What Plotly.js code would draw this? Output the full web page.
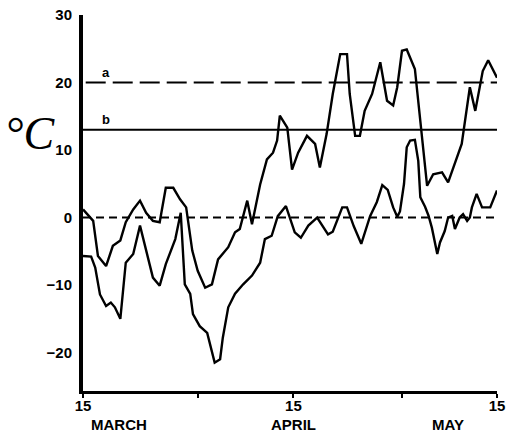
<!DOCTYPE html>
<html>
<head>
<meta charset="utf-8">
<script src="https://cdn.plot.ly/plotly-3.0.1.min.js"></script>
<style>html,body{margin:0;padding:0;background:#fff;}#chart{width:506px;height:436px;}</style>
</head>
<body>
<div id="chart"></div>
<script>
// x = days after 15 March
const upperDays = [0,1.5,2.2,3.4,4.4,5.5,6.3,7.4,8.4,9.3,10.3,11.3,12.2,13.3,14.3,15.2,16.1,16.9,18.0,19.0,19.9,21.4,22.4,23.1,24.2,24.9,26.1,27.1,28.0,28.6,29.0,30.1,30.8,31.7,33.0,34.2,34.9,35.9,36.8,37.9,38.9,39.3,40.1,40.8,41.5,42.6,43.8,44.8,45.7,46.3,47.0,47.7,48.9,49.4,49.9,50.7,51.6,52.9,53.8,54.8,55.8,57.0,57.8,58.9,59.7,61.0];
const upperTemp = [1.2,-0.5,-5.7,-7.2,-4.2,-3.4,-0.7,1.2,2.5,0.7,-0.5,-0.7,4.4,4.4,2.7,1.5,-4.9,-7.9,-10.4,-9.9,-6.2,-4.4,-2.2,-1.7,2.5,-1.0,4.9,8.6,9.6,11.4,15.1,13.3,7.1,9.6,12.1,10.9,7.4,12.4,18.3,24.2,24.2,18.3,12.1,12.1,15.8,18.3,23.0,17.3,16.6,19.3,24.7,24.9,22.0,17.3,12.4,4.7,6.4,6.7,5.2,7.9,10.9,19.3,15.8,21.7,23.3,20.7];

const lowerDays = [0,1.2,1.8,2.5,3.4,4.1,4.7,5.5,6.3,7.4,8.4,9.3,10.3,11.3,12.2,13.6,14.4,15.0,15.8,16.2,17.2,18.3,18.7,19.4,20.2,20.6,21.4,22.4,23.6,24.9,26.1,26.8,27.8,28.7,29.9,30.8,31.2,32.1,33.2,34.5,36.1,36.8,37.7,38.2,38.9,39.9,41.0,42.3,43.3,44.1,44.9,45.7,46.3,46.7,47.3,47.7,48.2,48.9,49.4,49.7,50.4,50.9,51.4,52.2,52.6,53.3,53.8,54.4,54.8,55.5,56.0,56.6,57.0,57.3,58.0,58.8,60.0,61.0];
const lowerTemp = [-5.7,-5.8,-7.4,-11.4,-13.1,-12.6,-13.3,-15.0,-6.7,-5.4,-1.2,-4.9,-8.9,-10.1,-6.9,-3.2,0.7,-9.9,-11.3,-14.3,-16.1,-17.1,-18.8,-21.5,-21.0,-17.8,-13.3,-11.3,-9.9,-8.6,-6.7,-3.2,-2.7,0.2,1.7,-1.0,-2.2,-3.0,-1.2,0,-2.5,-2.1,0.2,1.5,1.5,-1.3,-3.9,0.2,2.3,4.8,4.1,1.5,0.1,0.9,5.0,10.4,11.4,11.5,8.4,3.0,1.6,0.3,-1.5,-5.4,-3.7,-2.0,0,0.25,-1.7,0,0.5,-0.5,0,1.5,3.5,1.5,1.5,4.0];

const refLevels = [20, 13, 0];
const refLabels = ['a', 'b', ''];
const xTickVals = [0, 17, 31, 47, 61];
const xTickText = ['15', '', '15', '', '15'];
const monthNames = ['MARCH', 'APRIL', 'MAY'];
const monthPos = [5.3, 31, 53.8];
const yTickVals = [-20, -10, 0, 10, 20, 30];
const yTickText = ['\u221220', '\u221210', '0', '10', '20', '30'];

const boldFont = {family: 'Liberation Sans Narrow, Liberation Sans, Arial, sans-serif', size: 15, color: '#000', weight: 700};

const traces = [
  {x: upperDays, y: upperTemp, mode: 'lines', line: {color: '#000', width: 2.4}, hoverinfo: 'skip'},
  {x: lowerDays, y: lowerTemp, mode: 'lines', line: {color: '#000', width: 2.4}, hoverinfo: 'skip'}
];

const dashes = ['20px,7px', 'solid', '8px,5px'];
const shapes = refLevels.map((v, i) => ({
  type: 'line', xref: 'x', yref: 'y', x0: i === 0 ? 0.4 : 0, x1: 61, y0: v, y1: v,
  line: {color: '#000', width: i === 2 ? 2 : 1.8, dash: dashes[i]}
}));

const annotations = [];
refLabels.forEach((t, i) => {
  if (t) annotations.push({x: 3.4, y: refLevels[i], xref: 'x', yref: 'y', text: t, showarrow: false,
    yanchor: 'bottom', yshift: 1, font: {family: boldFont.family, size: 13, color: '#000', weight: 700}});
});
monthNames.forEach((m, i) => {
  annotations.push({x: monthPos[i], y: -0.088, xref: 'x', yref: 'paper', text: m, showarrow: false,
    yanchor: 'middle', font: boldFont});
});
annotations.push({x: -0.128, y: 0.686, xref: 'paper', yref: 'paper', text: '°C', showarrow: false,
  xanchor: 'center', yanchor: 'middle', font: {family: 'Liberation Serif, DejaVu Serif, serif', size: 46, color: '#000', style: 'italic'}});

const layout = {
  width: 506, height: 436,
  margin: {l: 83, r: 9, t: 15, b: 45},
  paper_bgcolor: '#fff', plot_bgcolor: '#fff',
  showlegend: false,
  xaxis: {range: [0, 61], showgrid: false, zeroline: false, showline: true, linecolor: '#000', linewidth: 3,
    tickvals: xTickVals, ticktext: xTickText, ticks: 'outside', ticklen: 4, tickwidth: 2, tickcolor: '#000',
    tickfont: boldFont, ticklabelstandoff: -5, fixedrange: true},
  yaxis: {range: [-25.7, 30], showgrid: false, zeroline: false, showline: true, linecolor: '#000', linewidth: 4,
    tickvals: yTickVals, ticktext: yTickText, ticks: '', tickfont: boldFont, ticklabelstandoff: 4, fixedrange: true},
  shapes: shapes,
  annotations: annotations
};

Plotly.newPlot('chart', traces, layout, {staticPlot: true, displayModeBar: false});
</script>
</body>
</html>
